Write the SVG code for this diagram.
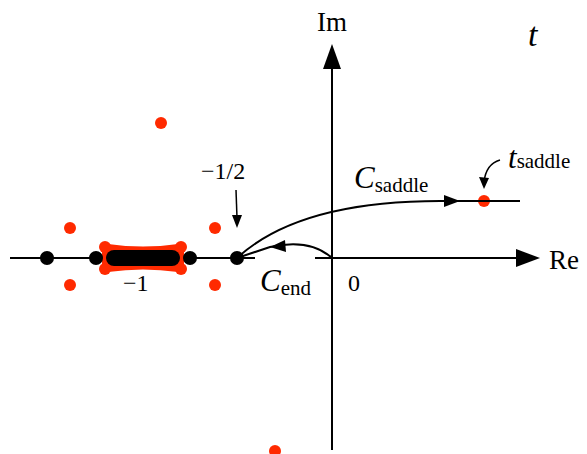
<svg xmlns="http://www.w3.org/2000/svg" width="587" height="454" viewBox="0 0 587 454">
<style>
.ln{stroke:#000;stroke-width:2;fill:none}
.red{fill:#ff2a00}
.blk{fill:#000}
text{font-family:'Liberation Serif','Times New Roman','DejaVu Serif',serif;fill:#000}
</style>
<rect width="587" height="454" fill="#fff"/>
<g id="axes">
<line class="ln" x1="10" y1="258" x2="255" y2="258"/>
<line class="ln" x1="315" y1="258" x2="520" y2="258"/>
<path d="M540,258 L516,249 L516,267 z" class="blk"/>
<line class="ln" x1="332" y1="450" x2="332" y2="68"/>
<path d="M332,44 L323,69 L341,69 z" class="blk"/>
</g>
<g id="points">
<circle class="red" cx="70" cy="228" r="6"/>
<circle class="red" cx="70" cy="285" r="6"/>
<circle class="red" cx="215" cy="228" r="6"/>
<circle class="red" cx="215" cy="285" r="6"/>
<circle class="red" cx="161" cy="123" r="6"/>
<circle class="red" cx="275" cy="451" r="6"/>
<path class="red" d="M108,244 Q143,249 178,244 L184,250 L184,266 L178,272 Q143,267 108,272 L102,266 L102,250 z"/>
<circle class="red" cx="105" cy="247" r="6"/>
<circle class="red" cx="105" cy="269" r="6"/>
<circle class="red" cx="181" cy="247" r="6"/>
<circle class="red" cx="181" cy="269" r="6"/>
<rect class="blk" x="106" y="250" width="74" height="16" rx="8"/>
<circle class="blk" cx="47" cy="258" r="7"/>
<circle class="blk" cx="96" cy="258" r="7"/>
<circle class="blk" cx="190" cy="258" r="7"/>
<circle class="blk" cx="237" cy="258" r="7"/>
<circle class="red" cx="484" cy="201" r="6"/>
</g>
<g id="connectors">
<path class="ln" d="M237,258 Q300,200 445,201 L520,201"/>
<path d="M460,201 L444,195 L444,207 z" class="blk"/>
<path class="ln" d="M332,258 Q310,238 270,247 L237,258"/>
<path d="M270,247 L285,240 L286,252 z" class="blk"/>
<path class="ln" d="M236,190 L237,218" style="stroke-width:1.5"/>
<path d="M237,228 L232,215 L242,215 z" class="blk"/>
<path class="ln" d="M500,160 Q486,164 484,182" style="stroke-width:1.5"/>
<path d="M484,189 L479,177 L489,178 z" class="blk"/>
</g>
<g id="labels">
<text x="317" y="31" font-size="27">Im</text>
<text x="528" y="46" font-size="34" font-style="italic">t</text>
<text x="549" y="269" font-size="27">Re</text>
<text x="348" y="291" font-size="24">0</text>
<text x="123" y="291" font-size="24">−1</text>
<text x="201" y="179" font-size="24">−1/2</text>
<text x="354" y="188" font-size="31" font-style="italic">C<tspan font-size="21" font-style="normal" dy="4">saddle</tspan></text>
<text x="508" y="168" font-size="31" font-style="italic">t<tspan font-size="21" font-style="normal" dy="0">saddle</tspan></text>
<text x="260" y="291" font-size="31" font-style="italic">C<tspan font-size="21" font-style="normal" dy="4">end</tspan></text>
</g>
</svg>
